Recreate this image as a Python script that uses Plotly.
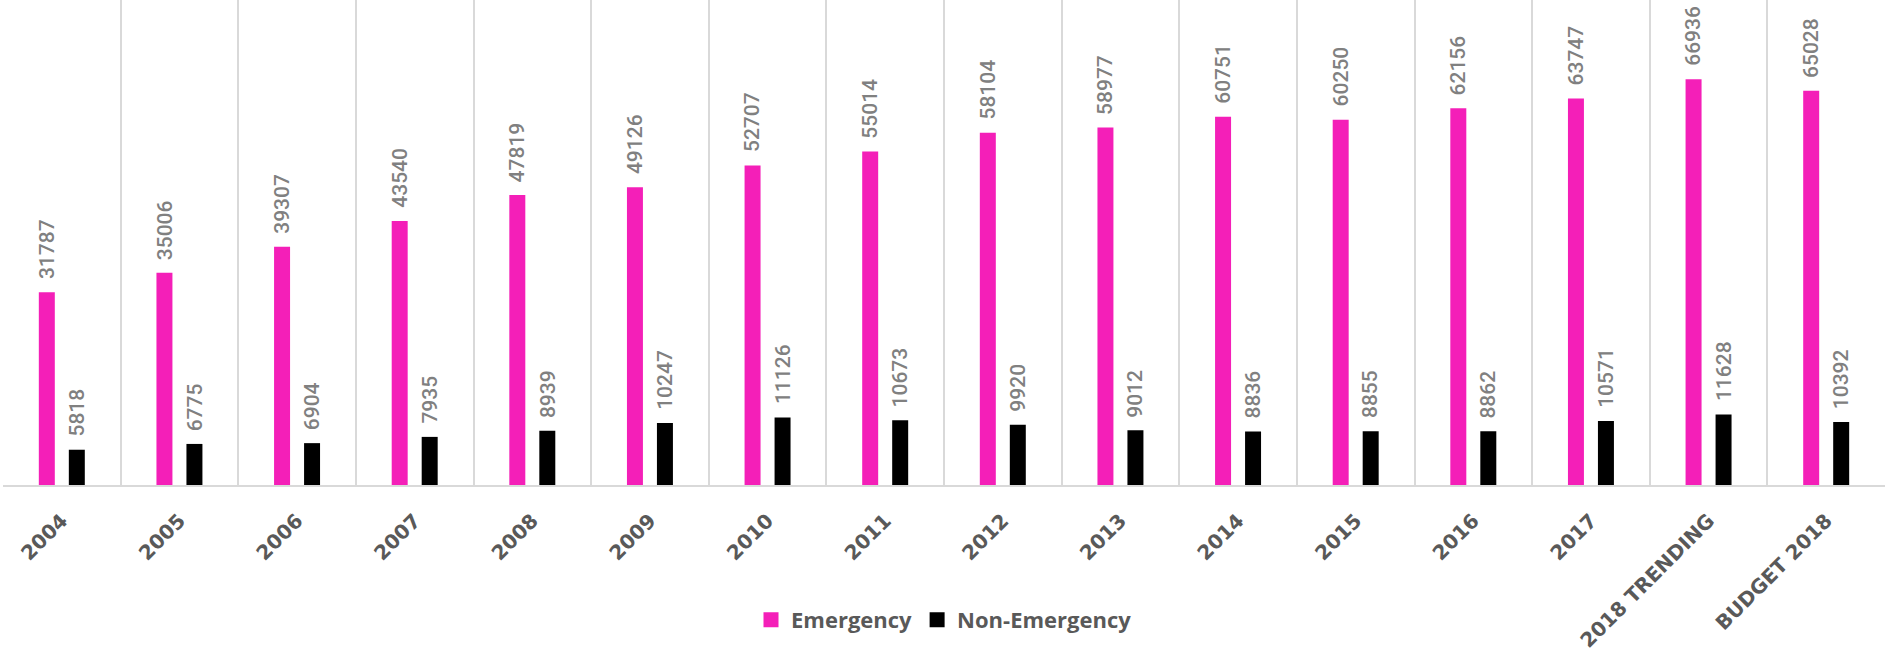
import plotly.graph_objects as go

categories = ["2004", "2005", "2006", "2007", "2008", "2009", "2010", "2011", "2012",
              "2013", "2014", "2015", "2016", "2017", "2018 TRENDING", "BUDGET 2018"]
emergency = [31787, 35006, 39307, 43540, 47819, 49126, 52707, 55014, 58104,
             58977, 60751, 60250, 62156, 63747, 66936, 65028]
non_emergency = [5818, 6775, 6904, 7935, 8939, 10247, 11126, 10673, 9920,
                 9012, 8836, 8855, 8862, 10571, 11628, 10392]

PINK = "#F41FB8"
LABEL_FONT = dict(family="Roboto, sans-serif", size=21, color="#808080", weight=500)

fig = go.Figure()
series = [("Emergency", emergency, PINK, -15), ("Non-Emergency", non_emergency, "#000000", 15)]
for name, vals, col, shift in series:
    fig.add_trace(go.Bar(name=name, x=categories, y=vals, marker_color=col,
                         marker_line_width=0, hoverinfo="skip", showlegend=False))
    # value labels: x is the category's position on the category axis
    for idx, v in enumerate(vals):
        fig.add_annotation(x=idx, y=v, xref="x", yref="y", text=str(v), showarrow=False,
                           textangle=-90, xanchor="center", yanchor="bottom",
                           xshift=shift, yshift=12, font=LABEL_FONT, borderpad=0)
# legend entries with larger square swatches
for name, _, col, _ in series:
    fig.add_trace(go.Scatter(name=name, x=[None], y=[None], mode="markers",
                             marker=dict(symbol="square", size=15, color=col),
                             hoverinfo="skip"))

fig.update_layout(
    template="none",
    width=1885, height=653,
    margin=dict(l=3, r=0, t=0, b=168, pad=0),
    paper_bgcolor="white", plot_bgcolor="white",
    barmode="group", bargap=0.49, bargroupgap=0.467,
    showlegend=True,
    legend=dict(orientation="h", x=0.5, xanchor="center", y=-0.278, yanchor="middle",
                font=dict(family="Open Sans, sans-serif", size=22, color="#595959", weight=700),
                itemclick=False, itemdoubleclick=False, itemwidth=30),
    xaxis=dict(type="category", categoryorder="array", categoryarray=categories,
               range=[-0.5, len(categories) - 0.5],
               tickson="boundaries", showgrid=True, gridcolor="#d9d9d9", gridwidth=1.5,
               showline=True, linecolor="#d9d9d9", linewidth=2, ticks="", tickangle=-45,
               tickfont=dict(family="DejaVu Sans, sans-serif", size=20, color="#595959", weight=700),
               ticklabelstandoff=14, automargin=False, zeroline=False),
    yaxis=dict(range=[0, 80000], showgrid=False, showticklabels=False, zeroline=False,
               showline=False, ticks="", automargin=False),
)

fig.write_html("out.html", config={"displayModeBar": False},
               post_script="document.body.style.margin='0';document.body.style.padding='0';")
